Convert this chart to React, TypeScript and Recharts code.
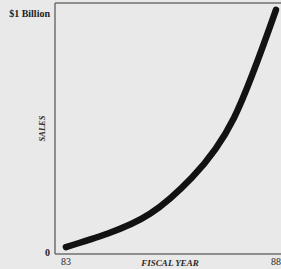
import { LineChart, Line, XAxis, YAxis, ReferenceLine, Label } from "recharts";

const years = [83, 84, 85, 86, 87, 88];
const sales = [21, 78, 160, 312, 561, 1013]; // millions of dollars
const yTicks = [0, 1000];
const yTickLabels: Record<number, string> = { 0: "0", 1000: "$1 Billion" };
const xTicks = [83, 88];

const data = years.map((y, i) => ({ year: y, sales: sales[i] }));

const serif = "'Liberation Serif', 'DejaVu Serif', serif";
const axisColor = "#6f6f6f";

function YTick({ x, y, payload }: any) {
  return (
    <text
      x={x}
      y={y}
      textAnchor="end"
      dominantBaseline="central"
      fontSize={10}
      fontWeight={600}
      fontFamily={serif}
      fill="#222"
    >
      {yTickLabels[payload.value] ?? ""}
    </text>
  );
}

export default function App() {
  return (
    <div
      style={{
        position: "absolute",
        left: 0,
        top: 0,
        width: 281,
        height: 269,
        background: "#e9e9e9",
        overflow: "hidden",
      }}
    >
      <LineChart width={281} height={269} data={data} margin={{ top: 3, right: 0, bottom: 0, left: 0 }}>
        <XAxis
          dataKey="year"
          type="number"
          domain={[82.74, 88.12]}
          ticks={xTicks}
          allowDataOverflow
          height={15}
          stroke={axisColor}
          strokeWidth={1.5}
          tickSize={0}
          tickMargin={4}
          tick={{ fontSize: 10, fill: "#2a2a2a", fontFamily: serif }}
        >
          <Label
            content={({ viewBox }: any) => (
              <text
                x={viewBox.x + viewBox.width / 2 + 2}
                y={viewBox.y + 12}
                textAnchor="middle"
                fontSize={9}
                fontStyle="italic"
                fontWeight={600}
                fontFamily={serif}
                fill="#2a2a2a"
              >
                FISCAL YEAR
              </text>
            )}
          />
        </XAxis>
        <YAxis
          type="number"
          domain={[-8, 1042]}
          ticks={yTicks}
          allowDataOverflow
          width={55}
          stroke={axisColor}
          strokeWidth={1.5}
          tickSize={0}
          tickMargin={5}
          tick={<YTick />}
        >
          <Label
            content={({ viewBox }: any) => {
              const cx = 42;
              const cy = viewBox.y + viewBox.height / 2;
              return (
                <text
                  x={cx}
                  y={cy}
                  transform={`rotate(-90 ${cx} ${cy})`}
                  textAnchor="middle"
                  dominantBaseline="central"
                  fontSize={8.5}
                  fontStyle="italic"
                  fontWeight={600}
                  fontFamily={serif}
                  fill="#2a2a2a"
                >
                  SALES
                </text>
              );
            }}
          />
        </YAxis>
        <ReferenceLine y={1042} stroke={axisColor} strokeWidth={1.5} ifOverflow="extendDomain" />
        <Line
          type="natural"
          dataKey="sales"
          stroke="#121212"
          strokeWidth={6.5}
          strokeLinecap="round"
          dot={false}
          isAnimationActive={false}
        />
      </LineChart>
    </div>
  );
}
